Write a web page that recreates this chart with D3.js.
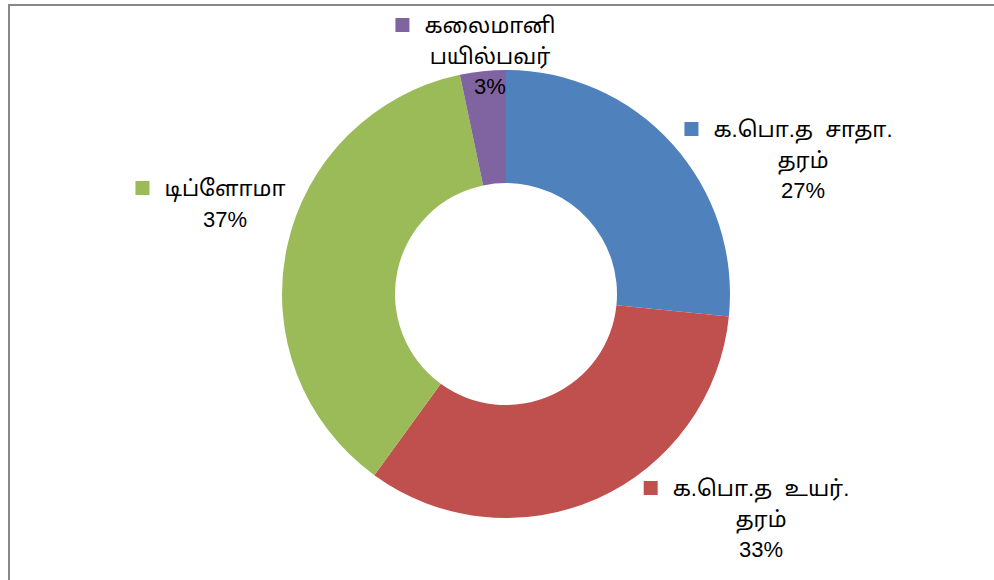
<!DOCTYPE html>
<html><head><meta charset="utf-8">
<script src="https://cdn.jsdelivr.net/npm/d3@7"></script>
<style>
html,body{margin:0;padding:0;background:#fff;}
text{font-family:"Liberation Sans","Noto Sans Tamil","Noto Sans",sans-serif;font-size:22px;fill:#000;white-space:pre;}
</style></head>
<body><svg id="c" width="994" height="580"></svg>
<script>
// Data
const categories = ["க.பொ.த  சாதா. தரம்", "க.பொ.த  உயர். தரம்", "டிப்ளோமா", "கலைமானி பயில்பவர்"];
const values = [26.6, 33.4, 36.7, 3.3];
const labelLines = [["க.பொ.த  சாதா.", "தரம்"], ["க.பொ.த  உயர்.", "தரம்"], ["டிப்ளோமா"], ["கலைமானி", "பயில்பவர்"]];
const colors = ["#4F81BD", "#C0504D", "#9BBB59", "#8064A2"];
// label block layout (center x, first baseline y)
const labelPos = [[803, 137], [761, 496], [225, 196], [490, 33]];

const svg = d3.select("#c");
// frame
svg.append("path").attr("d", "M9,580 V5 H994").attr("fill", "none").attr("stroke", "#888").attr("stroke-width", 2);

const cx = 506, cy = 294, rOut = 224, rIn = 111;
const g = svg.append("g").attr("transform", `translate(${cx},${cy})`);
const pie = d3.pie().sort(null).value(d => d);
const arc = d3.arc().innerRadius(rIn).outerRadius(rOut);
const arcs = pie(values);
g.selectAll("path.s").data(arcs).enter().append("path").attr("class", "s")
  .attr("d", arc).attr("fill", (d, i) => colors[i]);

const total = d3.sum(values);
const lh = 30.5;
arcs.forEach((a, i) => {
  const [x, y] = labelPos[i];
  const lines = labelLines[i].concat([Math.round(values[i] / total * 100) + "%"]);
  const lg = svg.append("g");
  let first;
  lines.forEach((t, k) => {
    const tx = lg.append("text").attr("x", x).attr("y", y + k * lh).attr("text-anchor", "middle").text(t);
    if (k === 0) first = tx;
  });
  const w = first.node().getComputedTextLength();
  lg.append("rect").attr("x", x - w / 2 - 15 - 14).attr("y", y - 15).attr("width", 14).attr("height", 14).attr("fill", colors[i]);
});
</script></body></html>
